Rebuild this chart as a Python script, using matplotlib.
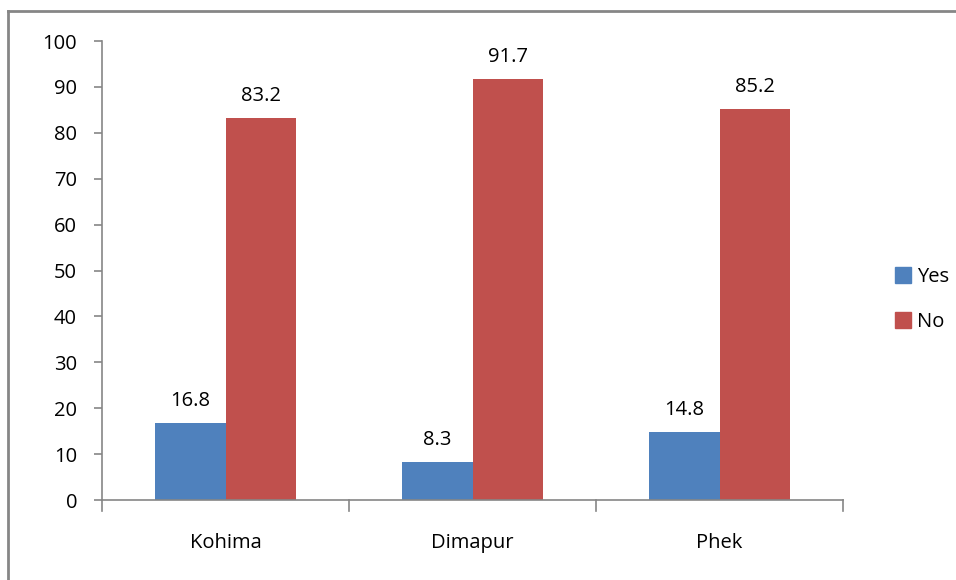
import matplotlib
matplotlib.use("Agg")
import matplotlib.pyplot as plt
from matplotlib.lines import Line2D
import numpy as np

plt.rcParams['font.family'] = ['Open Sans', 'DejaVu Sans']

districts = ["Kohima", "Dimapur", "Phek"]
yes_pct = [16.8, 8.3, 14.8]
no_pct = [83.2, 91.7, 85.2]
y_ticks = [0, 10, 20, 30, 40, 50, 60, 70, 80, 90, 100]

blue = "#4F81BD"
red = "#C0504D"
axis_grey = "#868686"
fs = 14.5

fig = plt.figure(figsize=(9.56, 5.8), dpi=100)
ax = fig.add_axes([0.1067, 0.1379, 0.7751, 0.7914])

x = np.arange(len(districts))
w = 0.285
b1 = ax.bar(x - w / 2, yes_pct, width=w, color=blue, label="Yes")
b2 = ax.bar(x + w / 2, no_pct, width=w, color=red, label="No")

for bars, vals in ((b1, yes_pct), (b2, no_pct)):
    for rect, v in zip(bars, vals):
        ax.text(rect.get_x() + rect.get_width() / 2, v + 2.6, f"{v:.1f}",
                ha="center", va="bottom", fontsize=fs, color="black")

ax.set_xlim(-0.5, len(districts) - 0.5)
ax.set_ylim(0, 100)
ax.set_yticks(y_ticks)
ax.set_yticklabels([str(t) for t in y_ticks], fontsize=fs)
ax.set_xticks(x)
ax.set_xticklabels(districts, fontsize=fs)
ax.tick_params(axis="x", length=0, pad=24)
ax.tick_params(axis="y", length=6, width=1.2, color=axis_grey, pad=12)

# category separator ticks below the x axis
for pos in np.arange(-0.5, len(districts), 1.0):
    ax.plot([pos, pos], [0, -2.3], color=axis_grey, lw=1.2, clip_on=False)

for side in ("top", "right"):
    ax.spines[side].set_visible(False)
for side in ("left", "bottom"):
    ax.spines[side].set_color(axis_grey)
    ax.spines[side].set_linewidth(1.2)

handles = [Line2D([], [], marker="s", linestyle="none", markersize=11,
                  markerfacecolor=blue, markeredgecolor=blue, label="Yes"),
           Line2D([], [], marker="s", linestyle="none", markersize=11,
                  markerfacecolor=red, markeredgecolor=red, label="No")]
fig.legend(handles=handles, loc="center left", bbox_to_anchor=(0.915, 0.484),
           frameon=False, fontsize=fs, handletextpad=0.2, labelspacing=1.25,
           handlelength=1.0)

# chart area border (top and left edges visible)
fig.add_artist(Line2D([0.0085, 1.0], [0.981, 0.981], transform=fig.transFigure,
                      color=axis_grey, lw=2))
fig.add_artist(Line2D([0.0085, 0.0085], [0.0, 0.981], transform=fig.transFigure,
                      color=axis_grey, lw=2))

fig.savefig("out.png", dpi=100)
